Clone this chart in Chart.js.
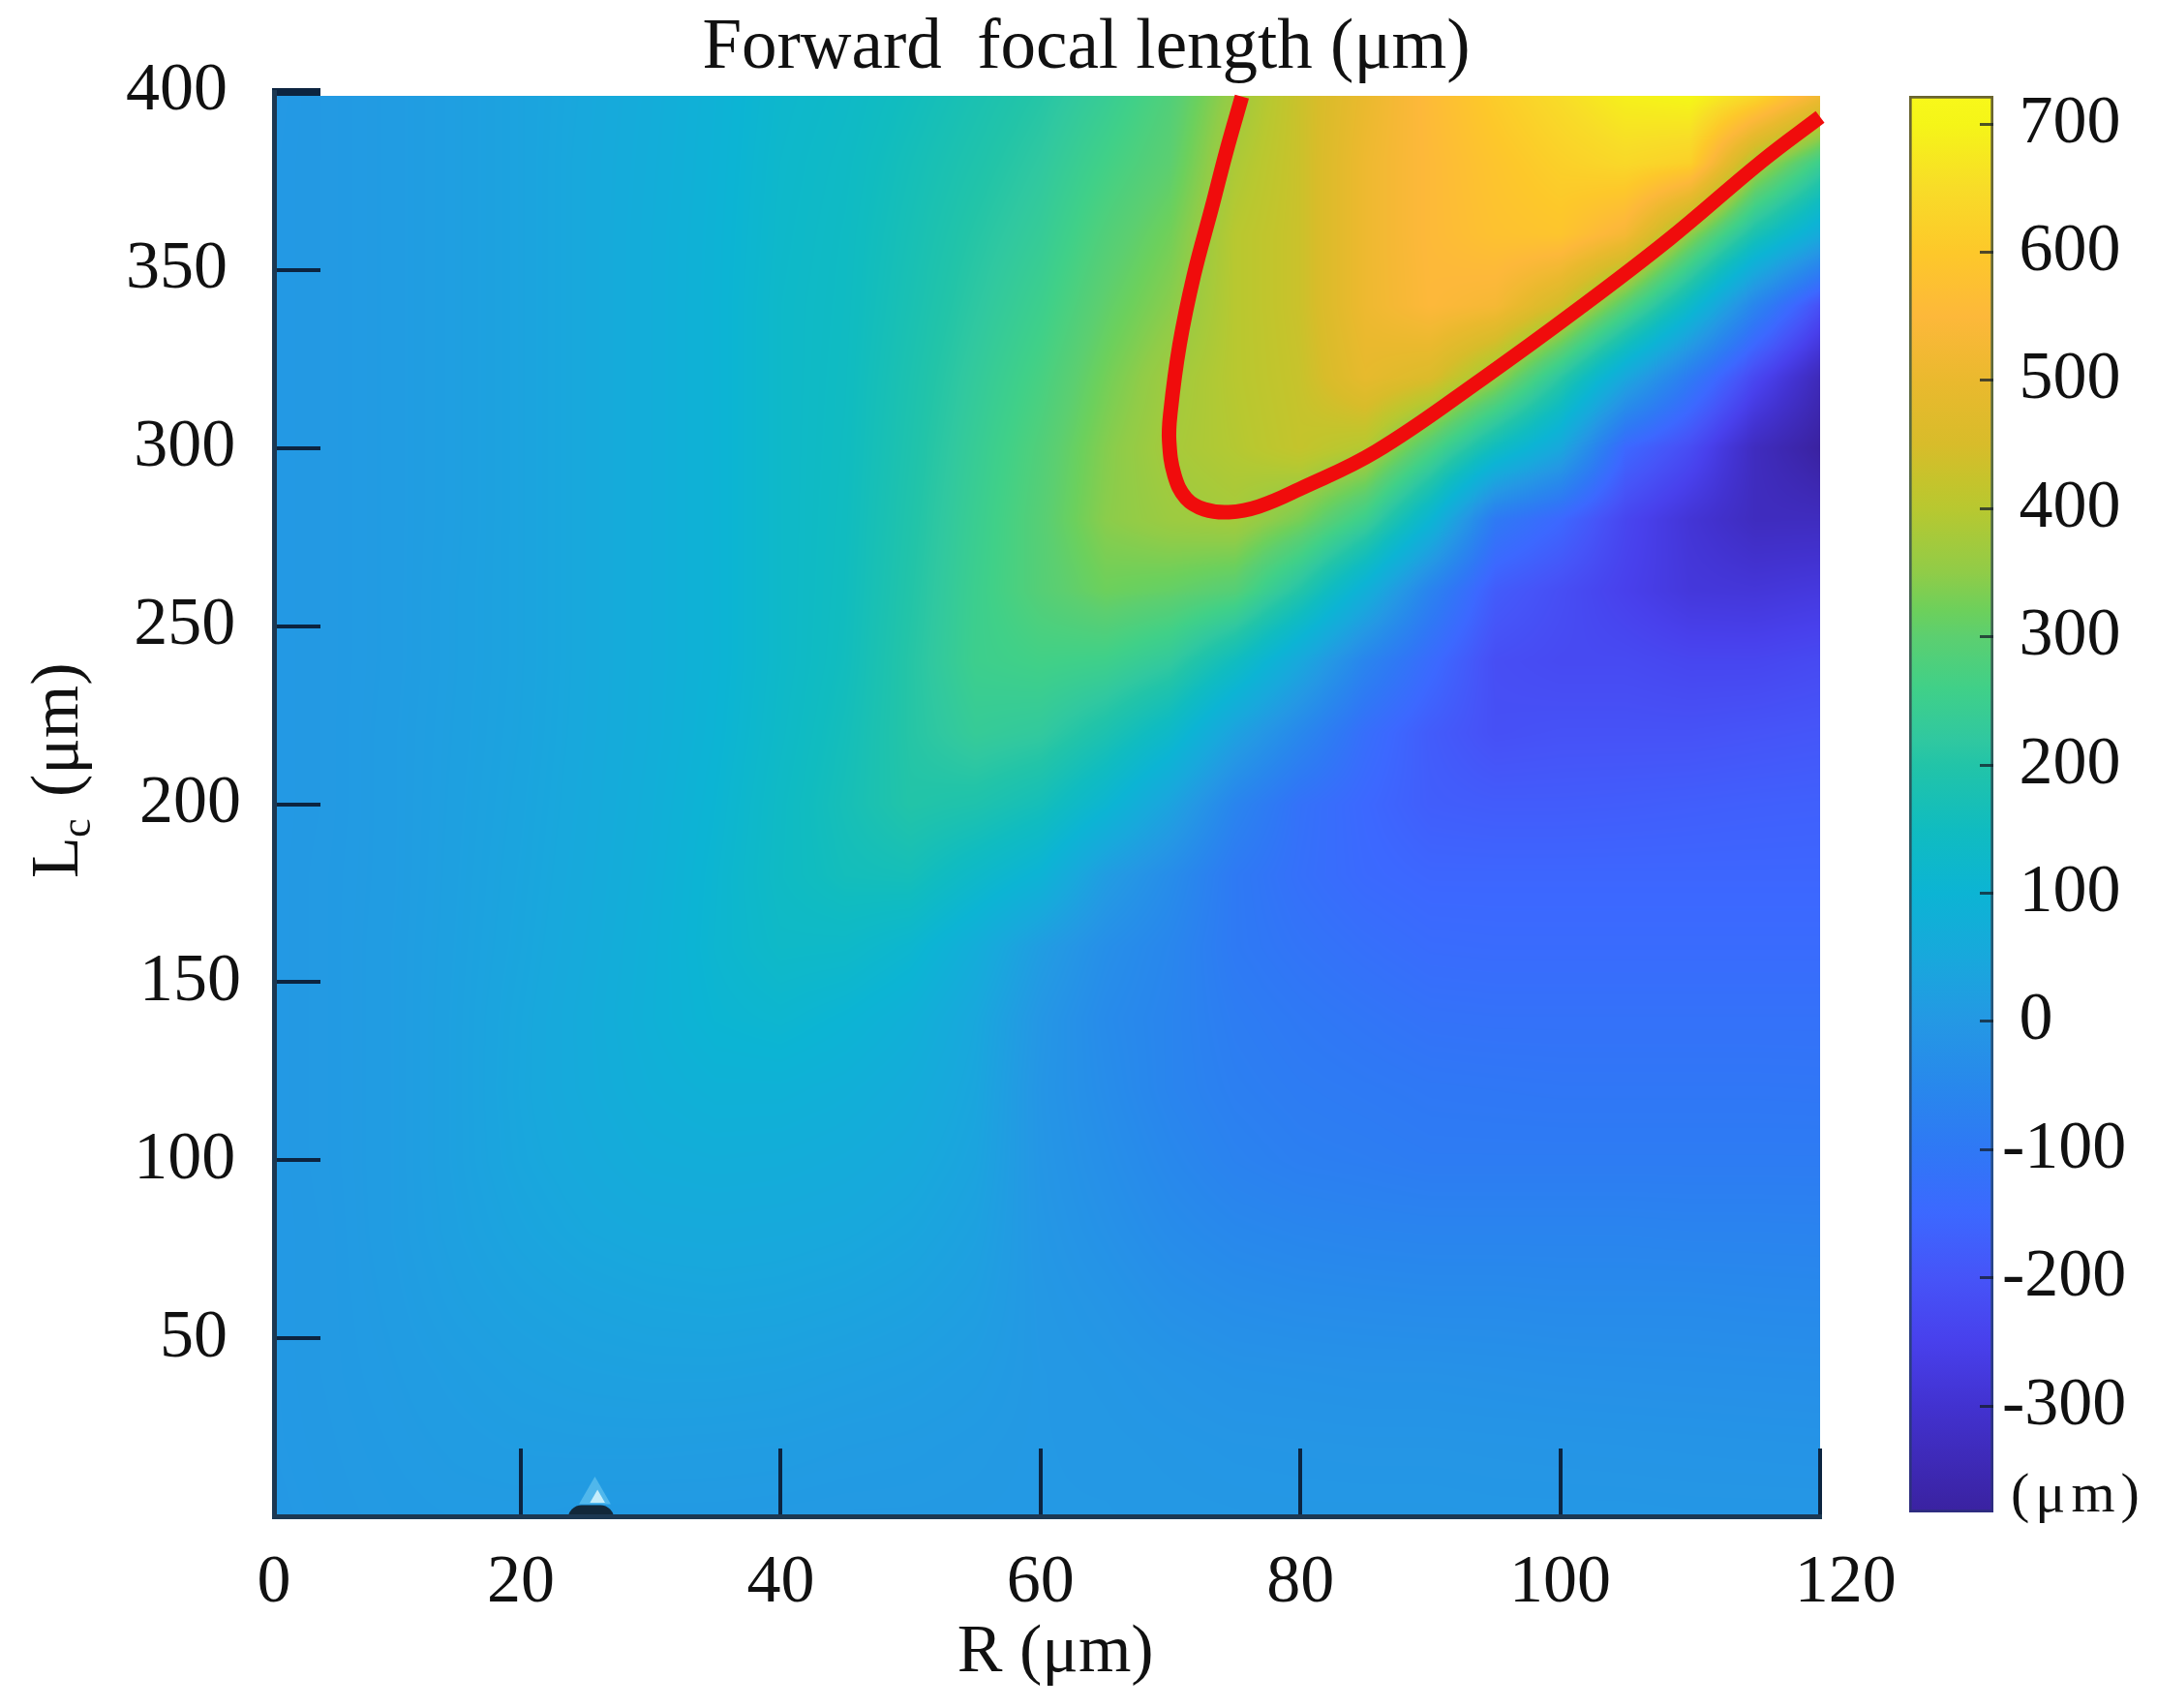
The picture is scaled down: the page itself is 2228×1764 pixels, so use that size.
<!DOCTYPE html>
<html>
<head>
<meta charset="utf-8">
<title>Forward focal length</title>
<style>
    html, body { margin: 0; padding: 0; background: #fff; }
    canvas { position: absolute; left: 0; top: 0; }
</style>
<script src="https://cdn.jsdelivr.net/npm/chart.js@4/dist/chart.umd.js"></script>
</head>
<body>
<canvas id="mapChart" width="2228" height="1764"></canvas>
<canvas id="barChart" width="2228" height="1764"></canvas>
<script>
// Axis values
const radiusValues = [0, 5, 10, 15, 20, 25, 30, 35, 40, 45, 50, 55, 60, 65, 70, 75, 80, 85, 90, 95, 100, 105, 110, 115, 120];
const lengthValues = [0, 20, 40, 60, 80, 100, 120, 140, 160, 180, 200, 220, 240, 260, 280, 300, 320, 340, 360, 380, 399];
const xTickValues = [1, 20, 40, 60, 80, 100, 120];
const xTickLabels = ['0', '20', '40', '60', '80', '100', '\u00a0\u00a0\u00a0120'];
const yTickValues = [50, 100, 150, 200, 250, 300, 350, 400];
const yTickLabels = ['50\u2009', '100\u200a', '150', '200', '250\u200a', '300\u200a', '350\u2009', '400\u2009'];
const barTickValues = [-300, -200, -100, 0, 100, 200, 300, 400, 500, 600, 700];
const barTickLabels = ['-300', '-200', '-100', '\u00a00', '\u00a0100', '\u00a0200', '\u00a0300', '\u00a0400', '\u00a0500', '\u00a0600', '\u00a0700'];

// Focal length, one list per radius, Lc going up
const focalR0 = [0, 1, 1, 1, 1, 1, 1, 1, 1, 1, 1, 1, 1, 1, 1, 1, 1, 1, 1, 1, 0];
const focalR5 = [3, 4, 5, 5, 5, 6, 6, 6, 6, 6, 5, 5, 5, 5, 5, 5, 5, 5, 5, 5, 5];
const focalR10 = [6, 8, 10, 12, 14, 14, 14, 14, 14, 13, 13, 13, 12, 12, 12, 12, 12, 12, 12, 12, 12];
const focalR15 = [8, 12, 16, 22, 26, 28, 28, 28, 27, 26, 25, 24, 23, 23, 22, 22, 22, 22, 22, 22, 22];
const focalR20 = [8, 15, 22, 30, 38, 44, 46, 45, 42, 40, 38, 36, 35, 35, 35, 35, 35, 35, 35, 35, 35];
const focalR25 = [6, 16, 26, 36, 48, 56, 62, 63, 60, 57, 55, 53, 52, 52, 52, 52, 52, 52, 52, 52, 50];
const focalR30 = [6, 16, 28, 40, 54, 68, 78, 84, 82, 79, 76, 73, 72, 72, 72, 72, 72, 72, 72, 70, 68];
const focalR35 = [6, 15, 28, 42, 56, 72, 88, 104, 110, 108, 103, 98, 95, 95, 95, 95, 95, 95, 94, 92, 90];
const focalR40 = [5, 14, 26, 40, 54, 70, 88, 112, 132, 140, 138, 132, 128, 128, 128, 128, 128, 128, 125, 122, 118];
const focalR45 = [4, 11, 22, 36, 50, 64, 80, 100, 130, 160, 168, 162, 155, 152, 150, 148, 146, 144, 142, 138, 132];
const focalR50 = [4, 9, 18, 30, 42, 54, 66, 82, 112, 165, 200, 205, 205, 200, 195, 190, 185, 178, 172, 165, 155];
const focalR55 = [3, 6, 12, 20, 28, 36, 42, 48, 70, 130, 190, 235, 252, 250, 245, 238, 228, 216, 205, 192, 180];
const focalR60 = [2, 2, 2, 0, -3, -6, -8, -4, 15, 95, 165, 225, 262, 290, 292, 285, 270, 252, 235, 220, 205];
const focalR65 = [2, 0, -3, -10, -20, -28, -35, -40, -28, 15, 110, 185, 255, 320, 345, 340, 325, 305, 285, 262, 240];
const focalR70 = [0, -3, -10, -24, -38, -50, -60, -60, -55, -35, 35, 130, 225, 310, 365, 378, 370, 345, 325, 300, 285];
const focalR75 = [-1, -6, -16, -32, -50, -68, -78, -85, -95, -95, -60, 30, 150, 290, 375, 395, 400, 400, 400, 385, 365];
const focalR80 = [-2, -7, -18, -36, -56, -78, -88, -98, -112, -125, -120, -50, 50, 200, 330, 420, 425, 430, 430, 430, 430];
const focalR85 = [-2, -8, -20, -38, -60, -82, -94, -108, -126, -145, -150, -130, -60, 80, 250, 395, 490, 510, 510, 510, 500];
const focalR90 = [-2, -8, -20, -40, -62, -88, -100, -118, -138, -155, -175, -180, -140, -65, 105, 280, 460, 550, 555, 555, 560];
const focalR95 = [-3, -9, -22, -40, -62, -88, -102, -120, -140, -155, -180, -210, -215, -180, -95, 150, 360, 530, 580, 590, 610];
const focalR100 = [-3, -10, -24, -42, -62, -88, -104, -120, -140, -155, -180, -205, -225, -215, -150, 50, 215, 440, 590, 620, 650];
const focalR105 = [-3, -11, -25, -42, -62, -88, -104, -120, -140, -155, -178, -205, -225, -250, -235, -150, 50, 290, 530, 640, 690];
const focalR110 = [-4, -12, -26, -42, -64, -88, -104, -120, -140, -155, -175, -205, -235, -280, -290, -220, -90, 130, 350, 620, 705];
const focalR115 = [-4, -13, -27, -44, -64, -88, -104, -120, -140, -155, -172, -200, -235, -285, -330, -330, -230, -60, 180, 385, 640];
const focalR120 = [-4, -14, -28, -45, -65, -88, -105, -120, -140, -155, -170, -195, -225, -275, -330, -383, -340, -210, 60, 250, 520];
const focalColumns = [focalR0, focalR5, focalR10, focalR15, focalR20, focalR25, focalR30, focalR35, focalR40,
    focalR45, focalR50, focalR55, focalR60, focalR65, focalR70, focalR75, focalR80, focalR85, focalR90,
    focalR95, focalR100, focalR105, focalR110, focalR115, focalR120];

// Red contour
const contourR = [75.5, 74.3, 73.2, 71.8, 70.7, 70.0, 69.9, 70.3, 71.2, 72.6, 74.5, 76.8, 80.0, 85.8, 94.1, 101.3, 108.4, 115.5, 120];
const contourL = [398.7, 383.3, 367.8, 348.5, 329, 310, 302, 292.4, 285.9, 282.8, 282, 283.6, 288.6, 299, 319.7, 338.8, 358.7, 380.5, 393];

// Colour scale
const colorValues = [-383, -300, -250, -200, -150, -100, -50, 0, 50, 100, 150, 200, 220, 260, 300, 320, 350, 400, 420, 450, 500, 550, 600, 650, 700, 722];
const colorHex = ['#3a22a0', '#4232d0', '#4840ec', '#4654f8', '#3c68ff', '#2f78f5', '#2888ec', '#2498e4', '#18a8dc', '#0cb4d4',
    '#10bcc0', '#22c4a8', '#30c8a0', '#40d088', '#5ccf70', '#6cd05c', '#90cc48', '#b8c830', '#c4c42c', '#d8bc2a',
    '#eab92e', '#fdb83a', '#fdc82a', '#f8dc28', '#f5f518', '#f8f81a'];
const barRange = [-383, 722];

const colorRgb = colorHex.map(h => [1, 3, 5].map(i => parseInt(h.slice(i, i + 2), 16)));

const colorFor = (v) => {
    if (v <= colorValues[0]) return colorRgb[0];
    for (let i = 1; i < colorValues.length; i++) {
        if (v <= colorValues[i]) {
            const t = (v - colorValues[i - 1]) / (colorValues[i] - colorValues[i - 1]);
            return colorRgb[i].map((c, k) => colorRgb[i - 1][k] + (c - colorRgb[i - 1][k]) * t);
        }
    }
    return colorRgb[colorRgb.length - 1];
};

const heatCells = [];
radiusValues.forEach((r, i) => {
    lengthValues.forEach((l, j) => {
        heatCells.push({ x: r, y: l, v: focalColumns[i][j] });
    });
});

const findCell = (list, value) => {
    let i = 0;
    while (i < list.length - 2 && value > list[i + 1]) i++;
    return i;
};

// Paints the map under the datasets, shaded between the cells as in "shading interp"
const heatPlugin = {
    id: 'heatPlugin',
    beforeDatasetsDraw(chart) {
        const { ctx, chartArea, scales } = chart;
        const cells = chart.data.datasets.find(d => d.label === 'Forward focal length').data;
        const rows = lengthValues.length;
        const left = Math.round(chartArea.left);
        const top = Math.ceil(scales.y.getPixelForValue(lengthValues[rows - 1]));
        const w = Math.round(chartArea.right) - left;
        const h = Math.round(chartArea.bottom) - top;
        const off = document.createElement('canvas');
        off.width = w;
        off.height = h;
        const octx = off.getContext('2d');
        const img = octx.createImageData(w, h);
        for (let py = 0; py < h; py++) {
            const l = Math.max(0, scales.y.getValueForPixel(top + py + 0.5));
            const j = findCell(lengthValues, l);
            const tl = (l - lengthValues[j]) / (lengthValues[j + 1] - lengthValues[j]);
            for (let px = 0; px < w; px++) {
                const r = scales.x.getValueForPixel(left + px + 0.5);
                const i = findCell(radiusValues, r);
                const tr = (r - radiusValues[i]) / (radiusValues[i + 1] - radiusValues[i]);
                const a = cells[i * rows + j].v;
                const b = cells[i * rows + j + 1].v;
                const c = cells[(i + 1) * rows + j].v;
                const d = cells[(i + 1) * rows + j + 1].v;
                const v = (a * (1 - tl) + b * tl) * (1 - tr) + (c * (1 - tl) + d * tl) * tr;
                const rgb = colorFor(v);
                const o = (py * w + px) * 4;
                img.data[o] = rgb[0];
                img.data[o + 1] = rgb[1];
                img.data[o + 2] = rgb[2];
                img.data[o + 3] = 255;
            }
        }
        octx.putImageData(img, 0, 0);
        ctx.drawImage(off, left, top);
    }
};

// Title sits off centre and Lc needs a subscript, neither fits the built-in options
const textPlugin = {
    id: 'textPlugin',
    afterDraw(chart) {
        const { ctx } = chart;
        ctx.save();
        ctx.fillStyle = '#111';
        ctx.textBaseline = 'alphabetic';
        ctx.textAlign = 'center';
        ctx.font = '73px "Liberation Serif"';
        ctx.fillText('Forward  focal length (μm)', 1122, 70);
        ctx.textAlign = 'left';
        ctx.translate(80, 907);
        ctx.rotate(-Math.PI / 2);
        ctx.font = '70px "Liberation Serif"';
        ctx.fillText('L', 0, 0);
        ctx.fillText('(μm)', 84, 0);
        ctx.font = '44px "Liberation Serif"';
        ctx.fillText('c', 42, 13);
        ctx.restore();
    }
};

// Unit under the colour bar
const unitPlugin = {
    id: 'unitPlugin',
    afterDraw(chart) {
        const { ctx } = chart;
        ctx.save();
        ctx.fillStyle = '#111';
        ctx.font = '58px "Liberation Serif"';
        ctx.letterSpacing = '6px';
        ctx.textBaseline = 'alphabetic';
        ctx.fillText('(μm)', 2077, 1561);
        ctx.restore();
    }
};

const barGradient = (context, stops) => {
    const { chart } = context;
    if (!chart.chartArea) return stops[0][1];
    const scale = chart.scales.y;
    const y0 = scale.getPixelForValue(barRange[1]);
    const y1 = scale.getPixelForValue(barRange[0]);
    const grad = chart.ctx.createLinearGradient(0, y0, 0, y1);
    stops.forEach(s => grad.addColorStop(s[0], s[1]));
    return grad;
};

const barFillStops = colorValues.map((v, i) => [(barRange[1] - v) / (barRange[1] - barRange[0]), colorHex[i]]);
const barEdgeStops = [[0, '#6a6430'], [0.25, '#5a6a40'], [0.5, '#245a60'], [0.75, '#26508a'], [1, '#2e2c80']];

Chart.defaults.font.family = '"Liberation Serif"';
Chart.defaults.color = '#111';
Chart.defaults.animation = false;

const initMap = () => {
    const ctx = document.getElementById('mapChart');
    return new Chart(ctx, {
        type: 'scatter',
        plugins: [heatPlugin, textPlugin],
        data: {
            datasets: [
                {
                    label: 'Contour',
                    data: contourR.map((r, i) => ({ x: r, y: contourL[i] })),
                    showLine: true,
                    borderColor: '#f00c0c',
                    borderWidth: 15,
                    tension: 0.4,
                    pointRadius: 0,
                    clip: false
                },
                {
                    label: 'Singularity core',
                    data: [{ x: 25.4, y: -3.4 }],
                    pointStyle: 'rectRounded',
                    pointRadius: 28,
                    pointBackgroundColor: '#12283a',
                    pointBorderWidth: 0
                },
                {
                    label: 'Singularity glare',
                    data: [{ x: 25.9, y: 5 }],
                    pointStyle: 'triangle',
                    pointRadius: 9,
                    pointBackgroundColor: 'rgba(225,250,255,0.8)',
                    pointBorderWidth: 0
                },
                {
                    label: 'Singularity halo',
                    data: [{ x: 25.7, y: 6 }],
                    pointStyle: 'triangle',
                    pointRadius: 19,
                    pointBackgroundColor: 'rgba(150,225,250,0.4)',
                    pointBorderWidth: 0
                },
                {
                    label: 'Forward focal length',
                    data: heatCells,
                    pointRadius: 0
                }
            ]
        },
        options: {
            responsive: false,
            layout: { padding: { right: 348, top: 95 } },
            plugins: {
                legend: { display: false },
                tooltip: { enabled: false }
            },
            scales: {
                x: {
                    type: 'linear',
                    min: 1,
                    max: 120,
                    afterFit: (s) => { s.height = 198; },
                    afterBuildTicks: (s) => { s.ticks = xTickValues.map(v => ({ value: v })); },
                    border: { color: '#1c3852', width: 5, z: 2 },
                    grid: {
                        drawOnChartArea: false,
                        color: '#0c2440',
                        lineWidth: 4,
                        tickLength: -70,
                        z: 2
                    },
                    ticks: {
                        autoSkip: false,
                        maxRotation: 0,
                        padding: 98,
                        font: { size: 70 },
                        callback: (value, index) => xTickLabels[index]
                    },
                    title: {
                        display: true,
                        text: '\u00a0R (μm)',
                        font: { size: 70 },
                        padding: { top: 0, bottom: 14 }
                    }
                },
                y: {
                    min: 0,
                    max: 400,
                    afterFit: (s) => { s.width = 283; s.paddingTop = 0; s.paddingBottom = 0; },
                    afterBuildTicks: (s) => { s.ticks = yTickValues.map(v => ({ value: v })); },
                    border: { color: '#1c3852', width: 5, z: 2 },
                    grid: {
                        drawOnChartArea: false,
                        color: '#0c2440',
                        lineWidth: (c) => (c.tick && c.tick.value === 400 ? 8 : 4),
                        tickLength: -48,
                        z: 2
                    },
                    ticks: {
                        autoSkip: false,
                        padding: 82,
                        font: { size: 70 },
                        callback: (value, index) => yTickLabels[index]
                    }
                }
            }
        }
    });
};

const initBar = () => {
    const ctx = document.getElementById('barChart');
    return new Chart(ctx, {
        type: 'bar',
        plugins: [unitPlugin],
        data: {
            labels: ['Colour scale'],
            datasets: [{
                data: [barRange],
                barPercentage: 1,
                categoryPercentage: 1,
                borderSkipped: false,
                borderWidth: 3,
                borderColor: (c) => barGradient(c, barEdgeStops),
                backgroundColor: (c) => barGradient(c, barFillStops)
            }]
        },
        options: {
            responsive: false,
            layout: { padding: { left: 1972, top: 99, bottom: 202 } },
            plugins: {
                legend: { display: false },
                tooltip: { enabled: false }
            },
            scales: {
                x: { display: false },
                y: {
                    position: 'right',
                    min: barRange[0],
                    max: barRange[1],
                    afterFit: (s) => { s.width = 169; },
                    afterBuildTicks: (s) => { s.ticks = barTickValues.map(v => ({ value: v })); },
                    border: { display: false },
                    grid: {
                        drawOnChartArea: false,
                        color: 'rgba(20,30,40,0.75)',
                        lineWidth: 3,
                        tickLength: -14,
                        z: 2
                    },
                    ticks: {
                        autoSkip: false,
                        padding: 23,
                        font: { size: 70 },
                        callback: (value, index) => barTickLabels[index]
                    }
                }
            }
        }
    });
};

initMap();
initBar();
</script>
</body>
</html>
